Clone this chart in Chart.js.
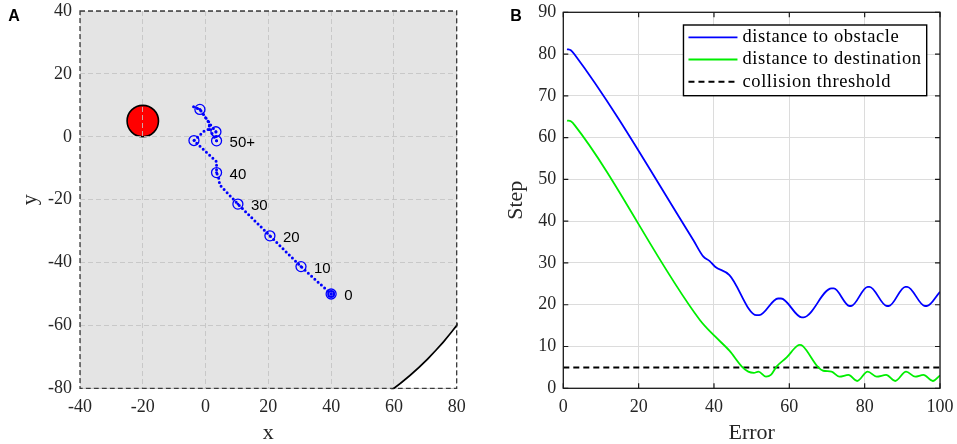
<!DOCTYPE html>
<html><head><meta charset="utf-8">
<script src="https://cdn.jsdelivr.net/npm/chart.js@4"></script>
<style>
html,body{margin:0;padding:0;background:#fff;overflow:hidden}
#wa{position:absolute;left:0;top:0;width:480px;height:444px}
#wb{position:absolute;left:480px;top:0;width:477px;height:444px}
</style></head><body>
<div id="wa"><canvas id="ca"></canvas></div>
<div id="wb"><canvas id="cb"></canvas></div>
<script>
// ---------- Panel A data ----------
const pathX = [40, 30.4, 20.5, 10.3, 4.5, 4.2, 3.5, 3.5, -3.7, -0.5, 1.2, 1.2, -1.8, -3.9, -1.8, 1.2, 3.3, 3.5, 1.2, 1.2, -1.8];
const pathY = [-50, -41.3, -31.5, -21.4, -15.3, -13.2, -11.4, -7.9, -1.2, 1.8, 2.5, 4.5, 8.7, 9.6, 8.7, 4.3, 1.6, -1.3, 2.5, 4.3, 8.7];
const markerX = [40, 30.4, 20.5, 10.3, 3.5, -3.7, 3.3, 3.5, -1.8];
const markerY = [-50, -41.3, -31.5, -21.4, -11.4, -1.2, 1.6, -1.3, 8.7];
const stepLabels = ['0', '10', '20', '30', '40', '50+'];
const stepLabelMarker = [0, 1, 2, 3, 4, 7];
const obstacleX = [-20];
const obstacleY = [5];
const obstacleR = [5];
const arenaCenter = [0, 0];
const arenaRadius = 100;
const xTicksA = [-40, 80, 20];   // min, max, step
const yTicksA = [-80, 40, 20];

// ---------- Panel B data ----------
const obstacleDistX = [1, 2, 3, 34.5, 37.2, 38.8, 40.3, 44.1, 51.3, 52.0, 57.0, 57.8, 63.3, 63.8, 71.2, 71.8, 76.0, 76.4, 80.8, 81.3, 85.9, 86.4, 90.8, 91.3, 96.0, 96.5, 100];
const obstacleDist  = [81.2, 80.9, 79.9, 35.5, 31.5, 30.5, 29.1, 27.1, 17.5, 17.5, 21.5, 21.5, 17.0, 17.0, 23.9, 23.9, 19.7, 19.7, 24.3, 24.3, 19.7, 19.7, 24.3, 24.3, 19.7, 19.7, 23.1];
const destDistX = [1, 2, 3, 36.3, 40.3, 44.1, 47.4, 49.1, 50.6, 51.8, 53.8, 55.1, 56.6, 59.3, 62.0, 62.8, 63.6, 67.7, 69.0, 71.2, 73.3, 75.7, 78.0, 80.8, 83.2, 85.7, 88.1, 91.0, 93.4, 95.6, 98.1, 100];
const destDist  = [64.1, 63.9, 63.0, 16.3, 12.4, 9.0, 5.2, 4.0, 3.7, 4.0, 2.8, 3.2, 5.2, 7.4, 10.1, 10.4, 10.1, 5.0, 4.2, 4.0, 2.8, 3.2, 1.75, 4.0, 2.8, 3.2, 1.75, 4.0, 2.8, 3.2, 1.75, 3.1];
const thresholdX = [0, 100];
const threshold  = [5, 5];
const seriesNames = ['distance to obstacle', 'distance to destination', 'collision threshold'];
const xTicksB = [0, 100, 20];
const yTicksB = [0, 90, 10];

// ---------- helpers ----------
const SERIF = "'Liberation Serif', 'Times New Roman', serif";
const SANS = "'Liberation Sans', Arial, sans-serif";
const BLUE = '#0000ff';
const TXT = '#262626';
const pts = (xs, ys) => xs.map((x, i) => ({x: x, y: ys[i]}));
function noPad(s) { s.paddingTop = 0; s.paddingBottom = 0; s.paddingLeft = 0; s.paddingRight = 0; }

function panelLetter(ctx, letter, x, y) {
  ctx.save();
  ctx.font = 'bold 16px ' + SANS;
  ctx.fillStyle = '#000';
  ctx.textAlign = 'center';
  ctx.textBaseline = 'middle';
  ctx.fillText(letter, x, y);
  ctx.restore();
}

// ---------- Panel A ----------
const arenaPlugin = {
  id: 'arena',
  beforeDraw(chart) {
    const {ctx, chartArea: a, scales: {x, y}} = chart;
    ctx.save();
    ctx.fillStyle = '#fff';
    ctx.fillRect(a.left, a.top, a.width, a.height);
    ctx.beginPath(); ctx.rect(a.left, a.top, a.width, a.height); ctx.clip();
    const cx = x.getPixelForValue(arenaCenter[0]), cy = y.getPixelForValue(arenaCenter[1]);
    const rx = Math.abs(x.getPixelForValue(arenaCenter[0] + arenaRadius) - cx);
    const ry = Math.abs(y.getPixelForValue(arenaCenter[1] + arenaRadius) - cy);
    ctx.beginPath(); ctx.ellipse(cx, cy, rx, ry, 0, 0, Math.PI * 2);
    ctx.fillStyle = '#e4e4e4'; ctx.fill();
    obstacleX.forEach((ox, i) => {
      const px = x.getPixelForValue(ox), py = y.getPixelForValue(obstacleY[i]);
      const r1 = Math.abs(x.getPixelForValue(ox + obstacleR[i]) - px);
      const r2 = Math.abs(y.getPixelForValue(obstacleY[i] + obstacleR[i]) - py);
      ctx.beginPath(); ctx.ellipse(px, py, r1, r2, 0, 0, Math.PI * 2);
      ctx.fillStyle = '#ff0000'; ctx.fill();
      ctx.lineWidth = 1.6; ctx.strokeStyle = '#000'; ctx.stroke();
    });
    ctx.restore();
  },
  afterDraw(chart) {
    const {ctx, chartArea: a, scales: {x, y}} = chart;
    ctx.save();
    ctx.beginPath(); ctx.rect(a.left - 1, a.top - 1, a.width + 2, a.height + 2); ctx.clip();
    const cx = x.getPixelForValue(arenaCenter[0]), cy = y.getPixelForValue(arenaCenter[1]);
    const rx = Math.abs(x.getPixelForValue(arenaCenter[0] + arenaRadius) - cx);
    const ry = Math.abs(y.getPixelForValue(arenaCenter[1] + arenaRadius) - cy);
    ctx.beginPath(); ctx.ellipse(cx, cy, rx, ry, 0, 0, Math.PI * 2);
    ctx.lineWidth = 1.8; ctx.strokeStyle = '#000'; ctx.stroke();
    ctx.restore();
    ctx.save();
    ctx.setLineDash([5, 3]);
    ctx.lineWidth = 1.3;
    ctx.strokeStyle = 'rgba(30,30,30,0.85)';
    ctx.strokeRect(a.left, a.top, a.width, a.height);
    ctx.restore();
    ctx.save();
    ctx.font = '15px ' + SANS;
    ctx.fillStyle = '#000';
    ctx.textAlign = 'left';
    ctx.textBaseline = 'middle';
    stepLabels.forEach((t, i) => {
      const m = stepLabelMarker[i];
      const px = x.getPixelForValue(markerX[m]), py = y.getPixelForValue(markerY[m]);
      ctx.fillText(t, px + 13, py + 2);
    });
    ctx.restore();
    panelLetter(ctx, 'A', 14, 17);
  }
};

new Chart(document.getElementById('ca'), {
  type: 'scatter',
  data: {
    datasets: [
      {data: pts(pathX, pathY), showLine: true, borderColor: BLUE, borderWidth: 3,
       borderDash: [0, 4.4], borderCapStyle: 'round', pointRadius: 0, tension: 0},
      {data: pts(markerX, markerY), showLine: false, pointStyle: 'circle', pointRadius: 5,
       borderColor: BLUE, borderWidth: 1.3, backgroundColor: 'rgba(0,0,0,0)'},
      {data: pts(markerX, markerY), showLine: false, pointRadius: 1.4,
       borderWidth: 0, backgroundColor: BLUE},
      {data: pts(pathX.slice(0, 1), pathY.slice(0, 1)), showLine: false, pointRadius: 3,
       borderColor: BLUE, borderWidth: 2, backgroundColor: 'rgba(0,0,255,0.25)'}
    ]
  },
  options: {
    responsive: true, maintainAspectRatio: false, animation: false,
    layout: {padding: {top: 11, right: 23.3, left: 0, bottom: 0}},
    plugins: {legend: {display: false}, tooltip: {enabled: false}},
    scales: {
      x: {
        type: 'linear', min: xTicksA[0], max: xTicksA[1],
        afterFit(s) { s.height = 55.7; noPad(s); },
        ticks: {stepSize: xTicksA[2], color: TXT, padding: 8, font: {family: SERIF, size: 18}},
        grid: {color: 'rgba(195,195,195,0.85)', lineWidth: 1, drawTicks: false},
        border: {display: false, dash: [5, 3]},
        title: {display: true, text: 'x', color: TXT, font: {family: SERIF, size: 22, lineHeight: 1}, padding: 0}
      },
      y: {
        type: 'linear', min: yTicksA[0], max: yTicksA[1],
        afterFit(s) { s.width = 80; noPad(s); },
        ticks: {stepSize: yTicksA[2], color: TXT, padding: 8, font: {family: SERIF, size: 18}},
        grid: {color: 'rgba(195,195,195,0.85)', lineWidth: 1, drawTicks: false},
        border: {display: false, dash: [5, 3]},
        title: {display: true, text: 'y', color: TXT, font: {family: SERIF, size: 22, lineHeight: 1}, padding: {top: 19.7, bottom: 0}}
      }
    }
  },
  plugins: [arenaPlugin]
});

// ---------- Panel B ----------
const frameB = {
  id: 'frameB',
  afterDraw(chart) {
    const {ctx, chartArea: a, scales: {x, y}} = chart;
    ctx.save();
    ctx.strokeStyle = '#1a1a1a';
    ctx.lineWidth = 1.2;
    const L = 5;
    ctx.beginPath();
    x.ticks.forEach(t => {
      const px = x.getPixelForValue(t.value);
      ctx.moveTo(px, a.bottom); ctx.lineTo(px, a.bottom - L);
      ctx.moveTo(px, a.top); ctx.lineTo(px, a.top + L);
    });
    y.ticks.forEach(t => {
      const py = y.getPixelForValue(t.value);
      ctx.moveTo(a.left, py); ctx.lineTo(a.left + L, py);
      ctx.moveTo(a.right, py); ctx.lineTo(a.right - L, py);
    });
    ctx.stroke();
    ctx.lineWidth = 1.3;
    ctx.strokeRect(a.left, a.top, a.width, a.height);
    ctx.restore();

    ctx.save();
    ctx.font = '18.5px ' + SERIF;
    try { ctx.letterSpacing = '0.6px'; } catch (e) {}
    const ds = chart.data.datasets;
    let tw = 0;
    ds.forEach(d => { tw = Math.max(tw, ctx.measureText(d.label).width); });
    const lineLen = 49, padL = 5, gap = 5, padR = 5;
    const w = padL + lineLen + gap + tw + padR;
    const h = 70.7;
    const right = a.right - 13.3, top = a.top + 12.7;
    const left = right - w;
    ctx.fillStyle = '#fff';
    ctx.fillRect(left, top, w, h);
    ctx.lineWidth = 1.4; ctx.strokeStyle = '#000';
    ctx.strokeRect(left, top, w, h);
    ds.forEach((d, i) => {
      const cy = top + 12.3 + i * 22.2;
      ctx.beginPath();
      ctx.setLineDash(d.borderDash || []);
      ctx.strokeStyle = d.borderColor; ctx.lineWidth = d.borderWidth;
      ctx.moveTo(left + padL, cy); ctx.lineTo(left + padL + lineLen, cy);
      ctx.stroke();
      ctx.setLineDash([]);
      ctx.fillStyle = '#000';
      ctx.textAlign = 'left'; ctx.textBaseline = 'middle';
      ctx.fillText(d.label, left + padL + lineLen + gap, cy);
    });
    ctx.restore();
    panelLetter(ctx, 'B', 36, 17);
  }
};

new Chart(document.getElementById('cb'), {
  type: 'scatter',
  data: {
    datasets: [
      {label: seriesNames[0], data: pts(obstacleDistX, obstacleDist), showLine: true, borderColor: '#0000ff',
       borderWidth: 1.8, pointRadius: 0, cubicInterpolationMode: 'monotone'},
      {label: seriesNames[1], data: pts(destDistX, destDist), showLine: true, borderColor: '#00ee00',
       borderWidth: 1.8, pointRadius: 0, cubicInterpolationMode: 'monotone'},
      {label: seriesNames[2], data: pts(thresholdX, threshold), showLine: true, borderColor: '#000',
       borderWidth: 2, borderDash: [6, 4], pointRadius: 0}
    ]
  },
  options: {
    responsive: true, maintainAspectRatio: false, animation: false,
    layout: {padding: {top: 12.3, right: 17, left: 0, bottom: 0}},
    plugins: {legend: {display: false}, tooltip: {enabled: false}},
    scales: {
      x: {
        type: 'linear', min: xTicksB[0], max: xTicksB[1],
        afterFit(s) { s.height = 55.7; noPad(s); },
        ticks: {stepSize: xTicksB[2], color: TXT, padding: 8, font: {family: SERIF, size: 18}},
        grid: {color: '#dcdcdc', lineWidth: 1, drawTicks: false},
        border: {display: false},
        title: {display: true, text: 'Error', color: TXT, font: {family: SERIF, size: 22, lineHeight: 1}, padding: 0}
      },
      y: {
        type: 'linear', min: yTicksB[0], max: yTicksB[1],
        afterFit(s) { s.width = 83.3; noPad(s); },
        ticks: {stepSize: yTicksB[2], color: TXT, padding: 7, font: {family: SERIF, size: 18}},
        grid: {color: '#dcdcdc', lineWidth: 1, drawTicks: false},
        border: {display: false},
        title: {display: true, text: 'Step', color: TXT, font: {family: SERIF, size: 22, lineHeight: 1}, padding: {top: 25.7, bottom: 0}}
      }
    }
  },
  plugins: [frameB]
});
</script>
</body></html>
